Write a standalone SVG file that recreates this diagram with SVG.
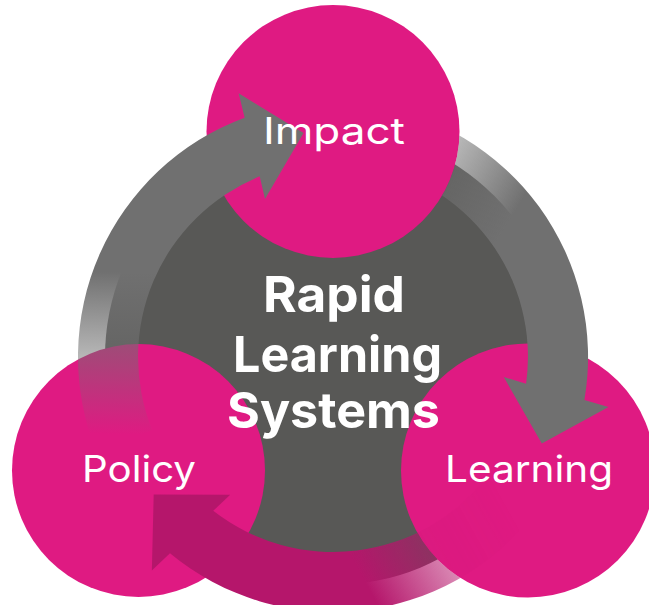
<svg xmlns="http://www.w3.org/2000/svg" xmlns:xlink="http://www.w3.org/1999/xlink" width="649" height="605" viewBox="0 0 649 605">
  <style>
    .pink { fill: #DF1A82; }
    .core { fill: #585856; }
    .lbl { font-family: Inter, "Open Sans", "Liberation Sans", sans-serif; font-size: 37px; fill: #ffffff; text-anchor: middle; }
    .title { font-family: Inter, "Open Sans", "Liberation Sans", sans-serif; font-size: 50px; font-weight: 700; fill: #ffffff; text-anchor: middle; }
  </style>
  <defs>
    <path id="arrowShape" d="M 35.5,-252.5 A 255 255 0 0 1 251.4,43.1 L 275.5,50.1 L 208.8,86.5 L 170.8,20.1 L 193.1,26.8 A 195 195 0 0 0 27.1,-193.1 Z"/>
    <linearGradient id="gGray" gradientUnits="userSpaceOnUse" x1="39.2" y1="-222.6" x2="178.1" y2="-139.1">
      <stop offset="0" stop-color="#707070" stop-opacity="0"/>
      <stop offset="0.47" stop-color="#707070" stop-opacity="0.5"/>
      <stop offset="1" stop-color="#707070" stop-opacity="1"/>
    </linearGradient>
    <linearGradient id="gPink" gradientUnits="userSpaceOnUse" x1="39.2" y1="-222.6" x2="178.1" y2="-139.1">
      <stop offset="0" stop-color="#B5166B" stop-opacity="0"/>
      <stop offset="0.47" stop-color="#B5166B" stop-opacity="0.5"/>
      <stop offset="1" stop-color="#B5166B" stop-opacity="1"/>
    </linearGradient>
    <mask id="noImpact" maskUnits="userSpaceOnUse" x="0" y="0" width="649" height="605">
      <rect x="0" y="0" width="649" height="605" fill="#ffffff"/>
      <circle cx="333" cy="131.5" r="126.5" fill="#000000"/>
    </mask>
    <mask id="noLearning" maskUnits="userSpaceOnUse" x="0" y="0" width="649" height="605">
      <rect x="0" y="0" width="649" height="605" fill="#ffffff"/>
      <circle cx="528" cy="470.5" r="127" fill="#222222"/>
    </mask>
  </defs>

  <g id="rapid-learning-systems">
    <circle class="core" cx="333" cy="357" r="228"/>
  </g>
  <g id="policy">
    <circle class="pink" cx="138.5" cy="470.5" r="126.5"/>
  </g>
  <g id="learning">
    <circle class="pink" cx="528" cy="470.5" r="127"/>
  </g>
  <g id="impact">
    <circle class="pink" cx="333" cy="131.5" r="126.5"/>
  </g>

  <g id="connectors">
    <g mask="url(#noImpact)">
      <use id="impact-to-learning" xlink:href="#arrowShape" href="#arrowShape" fill="url(#gGray)" transform="translate(333,357)"/>
    </g>
    <use id="policy-to-impact" xlink:href="#arrowShape" href="#arrowShape" fill="url(#gGray)" transform="translate(333,357) rotate(-120)"/>
    <g mask="url(#noLearning)">
      <use id="learning-to-policy" xlink:href="#arrowShape" href="#arrowShape" fill="url(#gPink)" transform="translate(333,357) rotate(120)"/>
    </g>
  </g>

  <g id="labels">
    <text class="lbl" x="334" y="144" textLength="142" lengthAdjust="spacingAndGlyphs">Impact</text>
    <text class="lbl" x="139" y="482" textLength="114" lengthAdjust="spacingAndGlyphs">Policy</text>
    <text class="lbl" x="529" y="482" textLength="168" lengthAdjust="spacingAndGlyphs">Learning</text>
    <text class="title" x="334" y="312" textLength="142" lengthAdjust="spacingAndGlyphs">Rapid</text>
    <text class="title" x="337.5" y="371.5" textLength="209" lengthAdjust="spacingAndGlyphs">Learning</text>
    <text class="title" x="333.5" y="428" textLength="213" lengthAdjust="spacingAndGlyphs">Systems</text>
  </g>
</svg>
